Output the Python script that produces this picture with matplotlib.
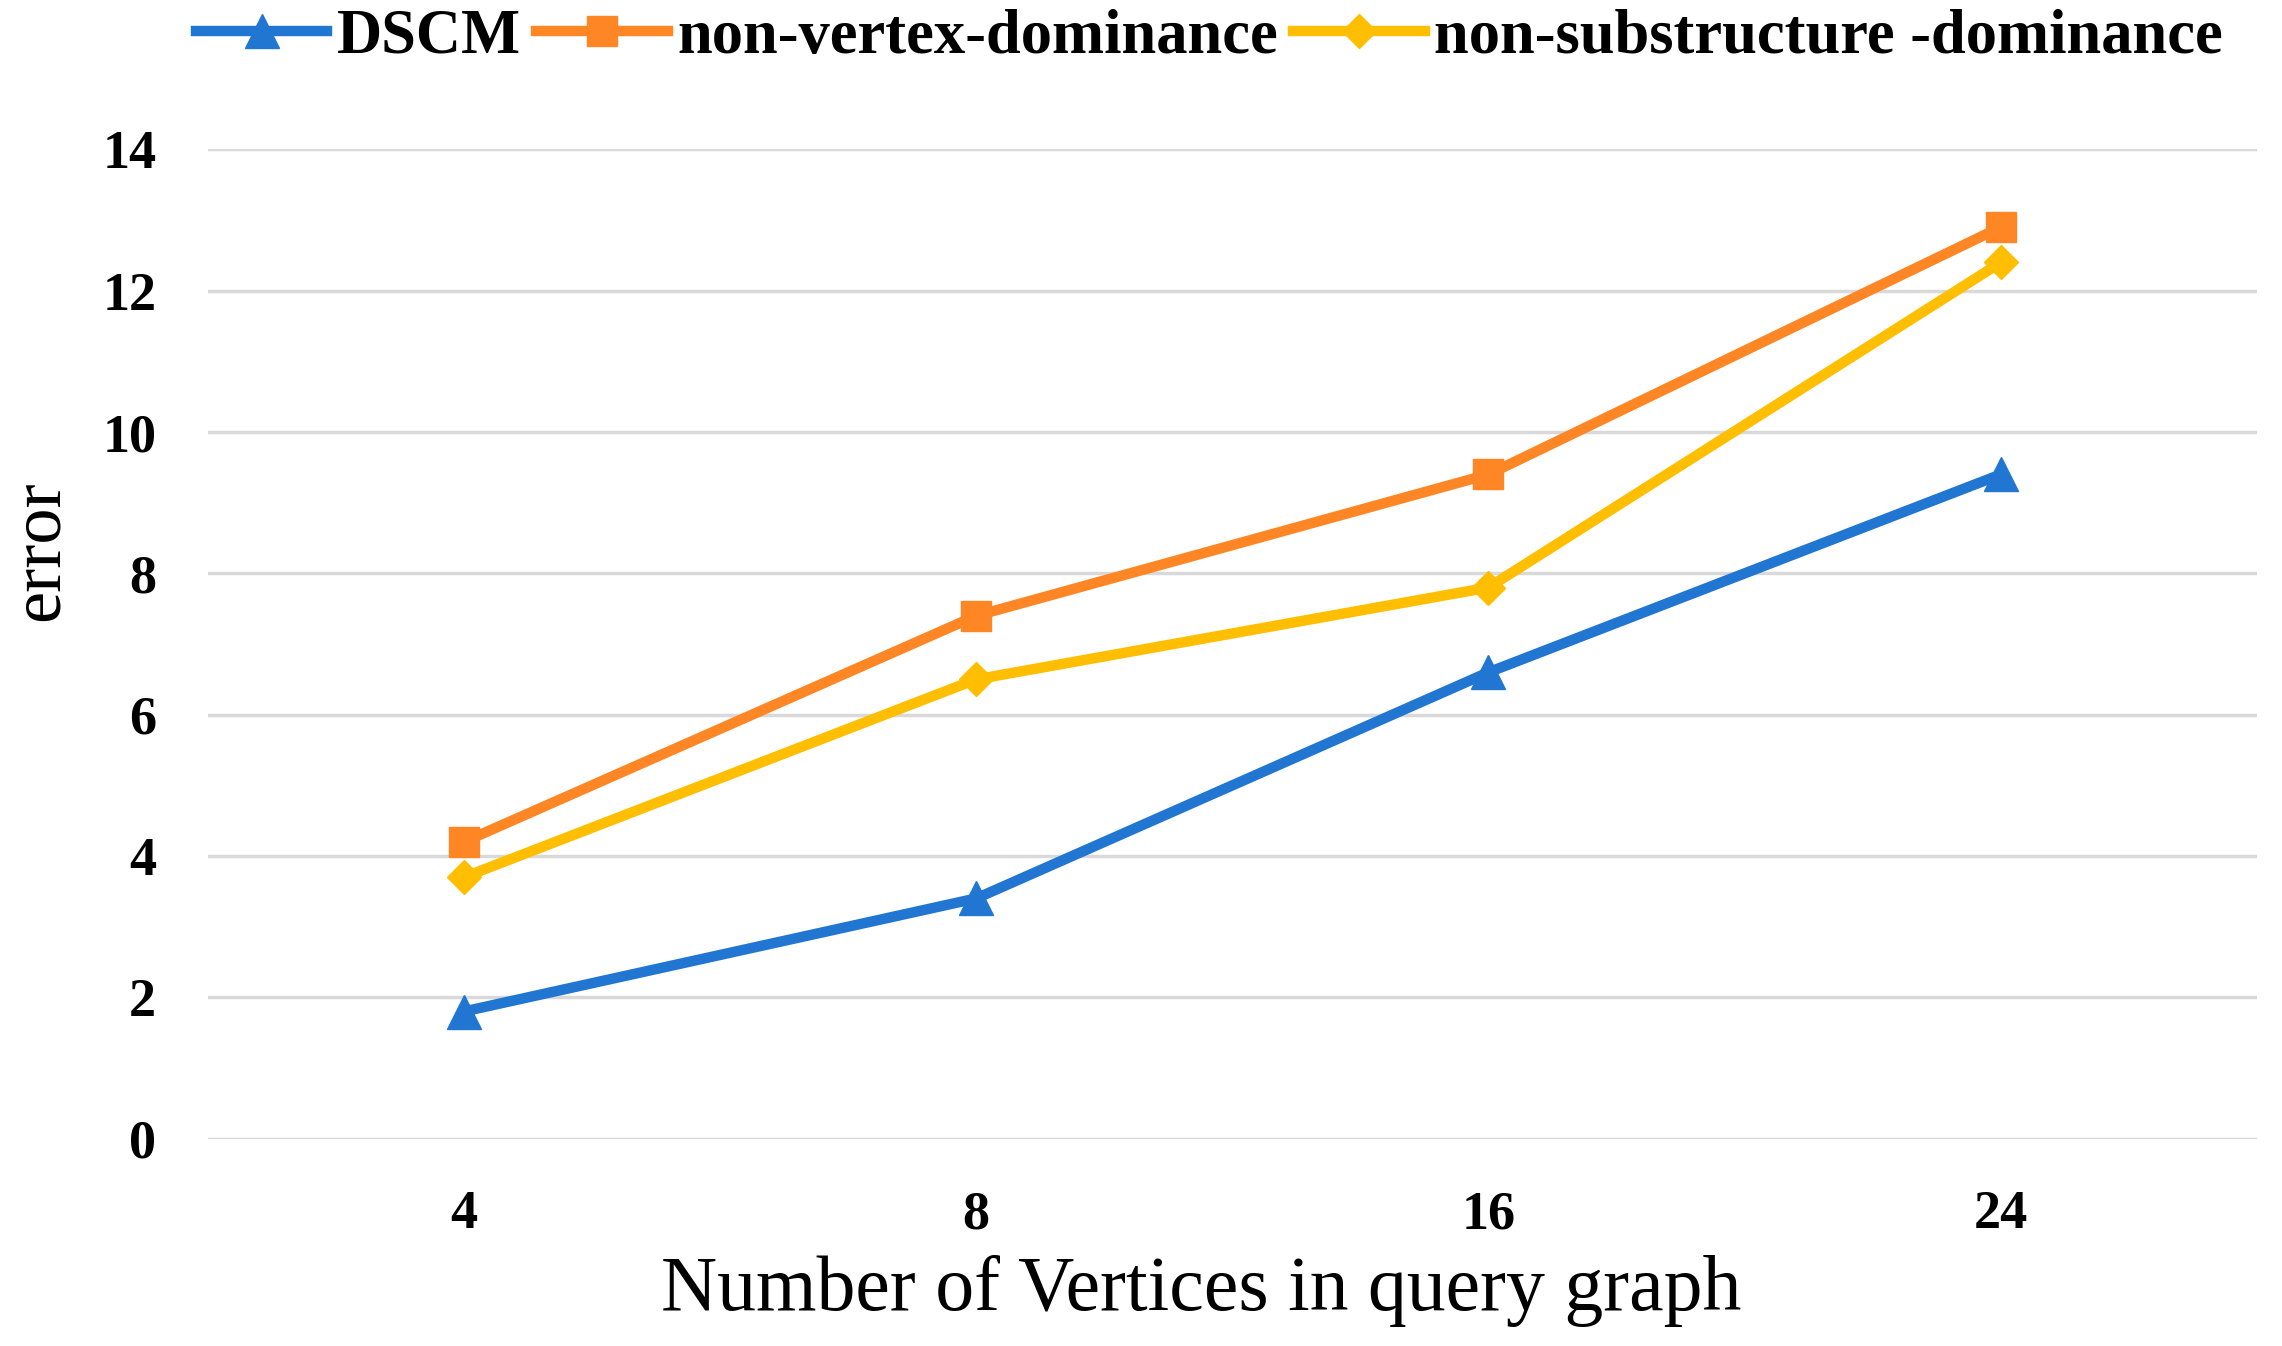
import matplotlib
matplotlib.use('Agg')
import matplotlib.pyplot as plt

vertices = ['4', '8', '16', '24']
dscm = [1.8, 3.4, 6.6, 9.4]
non_vertex = [4.2, 7.4, 9.4, 12.9]
non_substructure = [3.7, 6.5, 7.8, 12.4]
y_ticks = [0, 2, 4, 6, 8, 10, 12, 14]

plt.rcParams['font.family'] = 'Liberation Serif'

fig = plt.figure(figsize=(22.82, 13.46), dpi=100)
ax = fig.add_axes([0.091, 0.154, 0.898, 0.735])

x = range(len(vertices))
ax.plot(x, dscm, color='#2176D2', lw=7.5, marker='^', ms=24, label='DSCM')
ax.plot(x, non_vertex, color='#FF8624', lw=7.5, marker='s', ms=22, label='non-vertex-dominance')
ax.plot(x, non_substructure, color='#FFBF00', lw=7.5, marker='D', ms=17,
        label='non-substructure -dominance')

ax.set_xlim(-0.5, 3.5)
ax.set_ylim(0, 14)
ax.set_xticks(list(x))
ax.set_xticklabels(vertices, fontsize=39, fontweight='bold')
ax.set_yticks(y_ticks)
ax.set_yticklabels([str(v) for v in y_ticks], fontsize=39, fontweight='bold')
ax.tick_params(length=0, pad=37)
ax.grid(axis='y', color='#d9d9d9', lw=2.5)
ax.set_axisbelow(True)
for s in ax.spines.values():
    s.set_visible(False)

ax.set_xlabel('Number of Vertices in query graph', fontsize=56)
ax.xaxis.set_label_coords(0.485, -0.118)
ax.set_ylabel('error', fontsize=52)
ax.yaxis.set_label_coords(-0.066, 0.594)

fig.legend(loc='upper center', bbox_to_anchor=(0.53, 1.012), ncol=3, frameon=False,
           prop={'family': 'Liberation Serif', 'weight': 'bold', 'size': 45},
           handlelength=2.1, handletextpad=0.15, columnspacing=0.25, borderaxespad=0)

fig.savefig('out.png', dpi=100)
